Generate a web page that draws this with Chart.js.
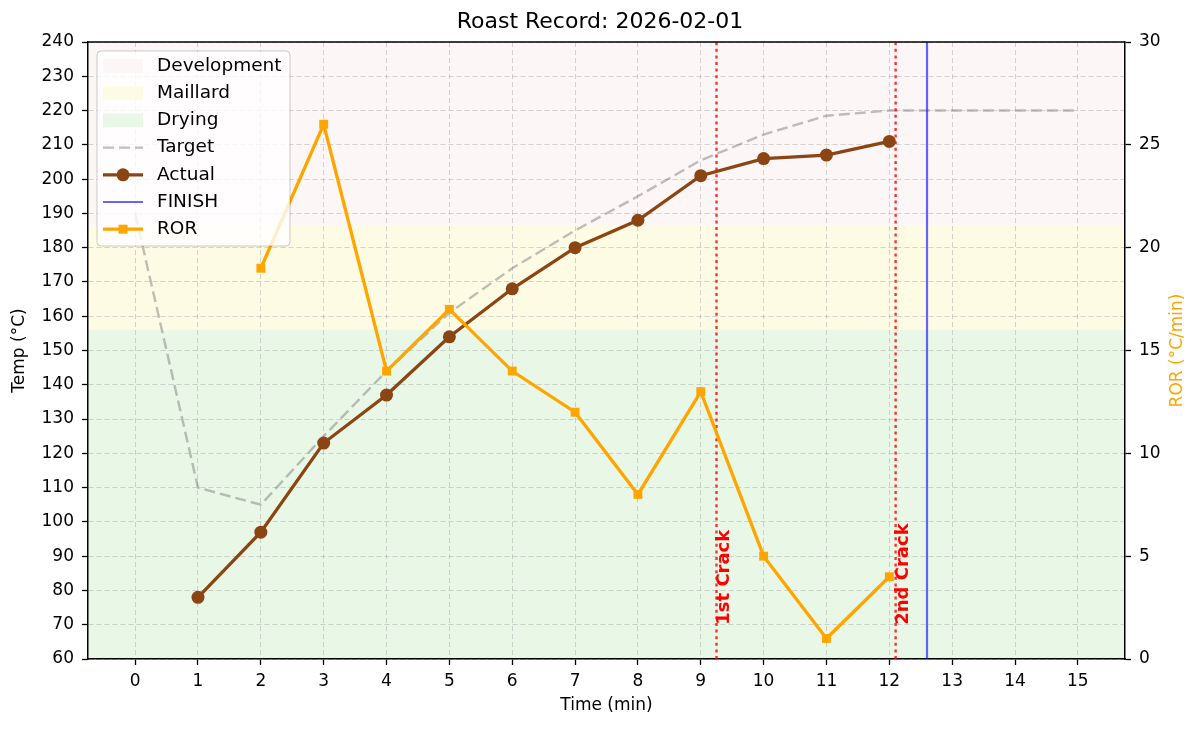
<!DOCTYPE html>
<html>
<head>
<meta charset="utf-8">
<title>Roast Record</title>
<script src="https://cdn.jsdelivr.net/npm/chart.js@4.4.1/dist/chart.umd.min.js"></script>
<style>
  html, body { margin: 0; padding: 0; background: #fff; }
  #wrap { width: 1200px; height: 729px; }
</style>
</head>
<body>
<div id="wrap"><canvas id="roastChart" width="1200" height="729"></canvas></div>
<script>
// Chart data
const xTickValues = [0, 1, 2, 3, 4, 5, 6, 7, 8, 9, 10, 11, 12, 13, 14, 15];

const targetMinutes = [0, 1, 2, 3, 4, 5, 6, 7, 8, 9, 10, 11, 12, 13, 14, 15];
const targetTemps = [190, 110, 105, 125, 144, 161, 174, 185, 195, 205.5, 213, 218.5, 220, 220, 220, 220];

const actualMinutes = [1, 2, 3, 4, 5, 6, 7, 8, 9, 10, 11, 12];
const actualTemps = [78, 97, 123, 137, 154, 168, 180, 188, 201, 206, 207, 211];

const rorMinutes = [2, 3, 4, 5, 6, 7, 8, 9, 10, 11, 12];
const rorValues = [19, 26, 14, 17, 14, 12, 8, 13, 5, 1, 4];

// roast phases as temperature bands
const phaseNames = ['Development', 'Maillard', 'Drying'];
const phaseLow = [186.5, 156, 60];
const phaseHigh = [240, 186.5, 156];
const phaseColors = ['#fdf6f7', '#fefbe4', '#e9f7e7'];

// events
const crackNames = ['1st Crack', '2nd Crack'];
const crackTimes = [9.25, 12.1];
const finishTime = 12.6;

const tempRange = [60, 240];
const rorRange = [0, 30];
const timeRange = [-0.75, 15.75];

const FONT = "'DejaVu Sans', sans-serif";

function toPoints(xs, ys) {
  return xs.map((x, i) => ({ x: x, y: ys[i] }));
}

function vline(x) {
  return [{ x: x, y: tempRange[0] }, { x: x, y: tempRange[1] }];
}

// Phase bands go under the grid
const bandsPlugin = {
  id: 'bands',
  beforeDraw(chart) {
    const { ctx, chartArea, scales } = chart;
    ctx.save();
    phaseNames.forEach((name, i) => {
      const top = scales.y.getPixelForValue(phaseHigh[i]);
      const bottom = scales.y.getPixelForValue(phaseLow[i]);
      ctx.fillStyle = phaseColors[i];
      ctx.fillRect(chartArea.left, top, chartArea.right - chartArea.left, bottom - top);
    });
    ctx.restore();
  }
};

// Crack labels, top frame, right axis title and the legend
const overlayPlugin = {
  id: 'overlay',
  afterDraw(chart) {
    const { ctx, chartArea, scales } = chart;
    ctx.save();

    // crack labels
    ctx.fillStyle = '#ff0000';
    ctx.font = 'bold 18px ' + FONT;
    ctx.textAlign = 'left';
    ctx.textBaseline = 'middle';
    crackNames.forEach((name, i) => {
      const px = scales.x.getPixelForValue(crackTimes[i]);
      const py = scales.y.getPixelForValue(70);
      ctx.save();
      ctx.translate(px + 8, py);
      ctx.rotate(-Math.PI / 2);
      ctx.fillText(name, 0, 0);
      ctx.restore();
    });

    // top spine
    ctx.strokeStyle = '#000';
    ctx.lineWidth = 1.5;
    ctx.beginPath();
    ctx.moveTo(chartArea.left, chartArea.top);
    ctx.lineTo(chartArea.right, chartArea.top);
    ctx.stroke();

    // right axis title, reads bottom to top
    ctx.save();
    ctx.fillStyle = '#ffa500';
    ctx.font = '17px ' + FONT;
    ctx.textAlign = 'center';
    ctx.textBaseline = 'middle';
    ctx.translate(1178, (chartArea.top + chartArea.bottom) / 2);
    ctx.rotate(-Math.PI / 2);
    ctx.fillText('ROR (°C/min)', 0, 0);
    ctx.restore();

    // legend
    const lx = chartArea.left + 9, ly = chartArea.top + 9;
    const lw = 193, lh = 195;
    ctx.beginPath();
    ctx.roundRect(lx, ly, lw, lh, 4);
    ctx.fillStyle = 'rgba(255,255,255,0.8)';
    ctx.fill();
    ctx.strokeStyle = 'rgba(0,0,0,0.2)';
    ctx.lineWidth = 1;
    ctx.stroke();

    const items = [
      { label: phaseNames[0], kind: 'patch', color: phaseColors[0] },
      { label: phaseNames[1], kind: 'patch', color: phaseColors[1] },
      { label: phaseNames[2], kind: 'patch', color: phaseColors[2] },
      { label: 'Target', kind: 'line', color: 'rgba(128,128,128,0.5)', width: 2.2, dash: [11, 5] },
      { label: 'Actual', kind: 'line', color: '#8b4513', width: 3.3, marker: 'circle' },
      { label: 'FINISH', kind: 'line', color: 'rgba(0,0,255,0.6)', width: 2.2 },
      { label: 'ROR', kind: 'line', color: '#ffa500', width: 3.3, marker: 'rect' }
    ];
    const hx0 = lx + 6, hx1 = lx + 46;
    items.forEach((it, i) => {
      const cy = ly + 15 + i * 27.2;
      if (it.kind === 'patch') {
        ctx.fillStyle = it.color;
        ctx.fillRect(hx0, cy - 7, hx1 - hx0, 14);
      } else {
        ctx.strokeStyle = it.color;
        ctx.lineWidth = it.width;
        ctx.setLineDash(it.dash || []);
        ctx.beginPath();
        ctx.moveTo(hx0, cy);
        ctx.lineTo(hx1, cy);
        ctx.stroke();
        ctx.setLineDash([]);
        if (it.marker === 'circle') {
          ctx.fillStyle = it.color;
          ctx.beginPath();
          ctx.arc((hx0 + hx1) / 2, cy, 6.5, 0, Math.PI * 2);
          ctx.fill();
        } else if (it.marker === 'rect') {
          ctx.fillStyle = it.color;
          ctx.fillRect((hx0 + hx1) / 2 - 4.5, cy - 4.5, 9, 9);
        }
      }
      ctx.fillStyle = '#000';
      ctx.font = '18.5px ' + FONT;
      ctx.textAlign = 'left';
      ctx.textBaseline = 'middle';
      ctx.fillText(it.label, lx + 60, cy);
    });

    ctx.restore();
  }
};

const gridColor = 'rgba(170,170,170,0.5)';

const chart = new Chart(document.getElementById('roastChart'), {
  type: 'line',
  data: {
    datasets: [
      {
        label: 'ROR',
        data: toPoints(rorMinutes, rorValues),
        yAxisID: 'y1',
        borderColor: '#ffa500',
        backgroundColor: '#ffa500',
        borderWidth: 3.3,
        pointStyle: 'rect',
        pointRadius: 6.3,
        pointBorderWidth: 0,
        tension: 0
      },
      {
        label: 'Actual',
        data: toPoints(actualMinutes, actualTemps),
        yAxisID: 'y',
        borderColor: '#8b4513',
        backgroundColor: '#8b4513',
        borderWidth: 3.3,
        pointRadius: 6.5,
        pointBorderWidth: 0,
        tension: 0
      },
      {
        label: 'FINISH',
        data: vline(finishTime),
        yAxisID: 'y',
        borderColor: 'rgba(0,0,255,0.6)',
        borderWidth: 2.2,
        pointRadius: 0
      },
      {
        label: crackNames[0],
        data: vline(crackTimes[0]),
        yAxisID: 'y',
        borderColor: 'rgba(255,0,0,0.8)',
        borderWidth: 2.4,
        borderDash: [3, 3.6],
        pointRadius: 0
      },
      {
        label: crackNames[1],
        data: vline(crackTimes[1]),
        yAxisID: 'y',
        borderColor: 'rgba(255,0,0,0.8)',
        borderWidth: 2.4,
        borderDash: [3, 3.6],
        pointRadius: 0
      },
      {
        label: 'Target',
        data: toPoints(targetMinutes, targetTemps),
        yAxisID: 'y',
        borderColor: 'rgba(128,128,128,0.5)',
        borderWidth: 2.4,
        borderDash: [11, 5],
        pointRadius: 0,
        tension: 0
      }
    ]
  },
  options: {
    responsive: false,
    animation: false,
    devicePixelRatio: 1,
    layout: { padding: 0 },
    plugins: {
      legend: { display: false },
      tooltip: { enabled: false },
      title: {
        display: true,
        text: 'Roast Record: 2026-02-01',
        color: '#000',
        font: { family: FONT, size: 22, weight: 'normal', lineHeight: 1.2 },
        padding: { top: 8.8, bottom: 6.8 }
      }
    },
    scales: {
      x: {
        type: 'linear',
        min: timeRange[0],
        max: timeRange[1],
        afterBuildTicks: (scale) => { scale.ticks = xTickValues.map(v => ({ value: v })); },
        afterFit: (scale) => { scale.height = 70; },
        ticks: {
          color: '#000',
          font: { family: FONT, size: 17 },
          padding: 6,
          maxRotation: 0,
          autoSkip: false
        },
        grid: {
          color: gridColor,
          lineWidth: 1,
          tickColor: '#000',
          tickLength: 6,
          tickWidth: 1.3
        },
        border: { display: true, color: '#000', width: 1.5, dash: [5, 3] },
        title: {
          display: true,
          text: 'Time (min)',
          color: '#000',
          font: { family: FONT, size: 17 },
          padding: { top: 0, bottom: 12.8 }
        }
      },
      y: {
        position: 'left',
        min: tempRange[0],
        max: tempRange[1],
        afterFit: (scale) => { scale.width = 88; },
        ticks: {
          stepSize: 10,
          color: '#000',
          font: { family: FONT, size: 17 },
          padding: 8
        },
        grid: {
          color: gridColor,
          lineWidth: 1,
          tickColor: '#000',
          tickLength: 6,
          tickWidth: 1.3
        },
        border: { display: true, color: '#000', width: 1.5, dash: [5, 3] },
        title: {
          display: true,
          text: 'Temp (°C)',
          color: '#000',
          font: { family: FONT, size: 17 },
          padding: { top: 9.8, bottom: 0 }
        }
      },
      y1: {
        position: 'right',
        min: rorRange[0],
        max: rorRange[1],
        afterFit: (scale) => { scale.width = 75; },
        ticks: {
          stepSize: 5,
          color: '#000',
          font: { family: FONT, size: 17 },
          padding: 8
        },
        grid: {
          drawOnChartArea: false,
          tickColor: '#000',
          tickLength: 6,
          tickWidth: 1.3
        },
        border: { display: true, color: '#000', width: 1.5 }
      }
    }
  },
  plugins: [bandsPlugin, overlayPlugin]
});
</script>
</body>
</html>
